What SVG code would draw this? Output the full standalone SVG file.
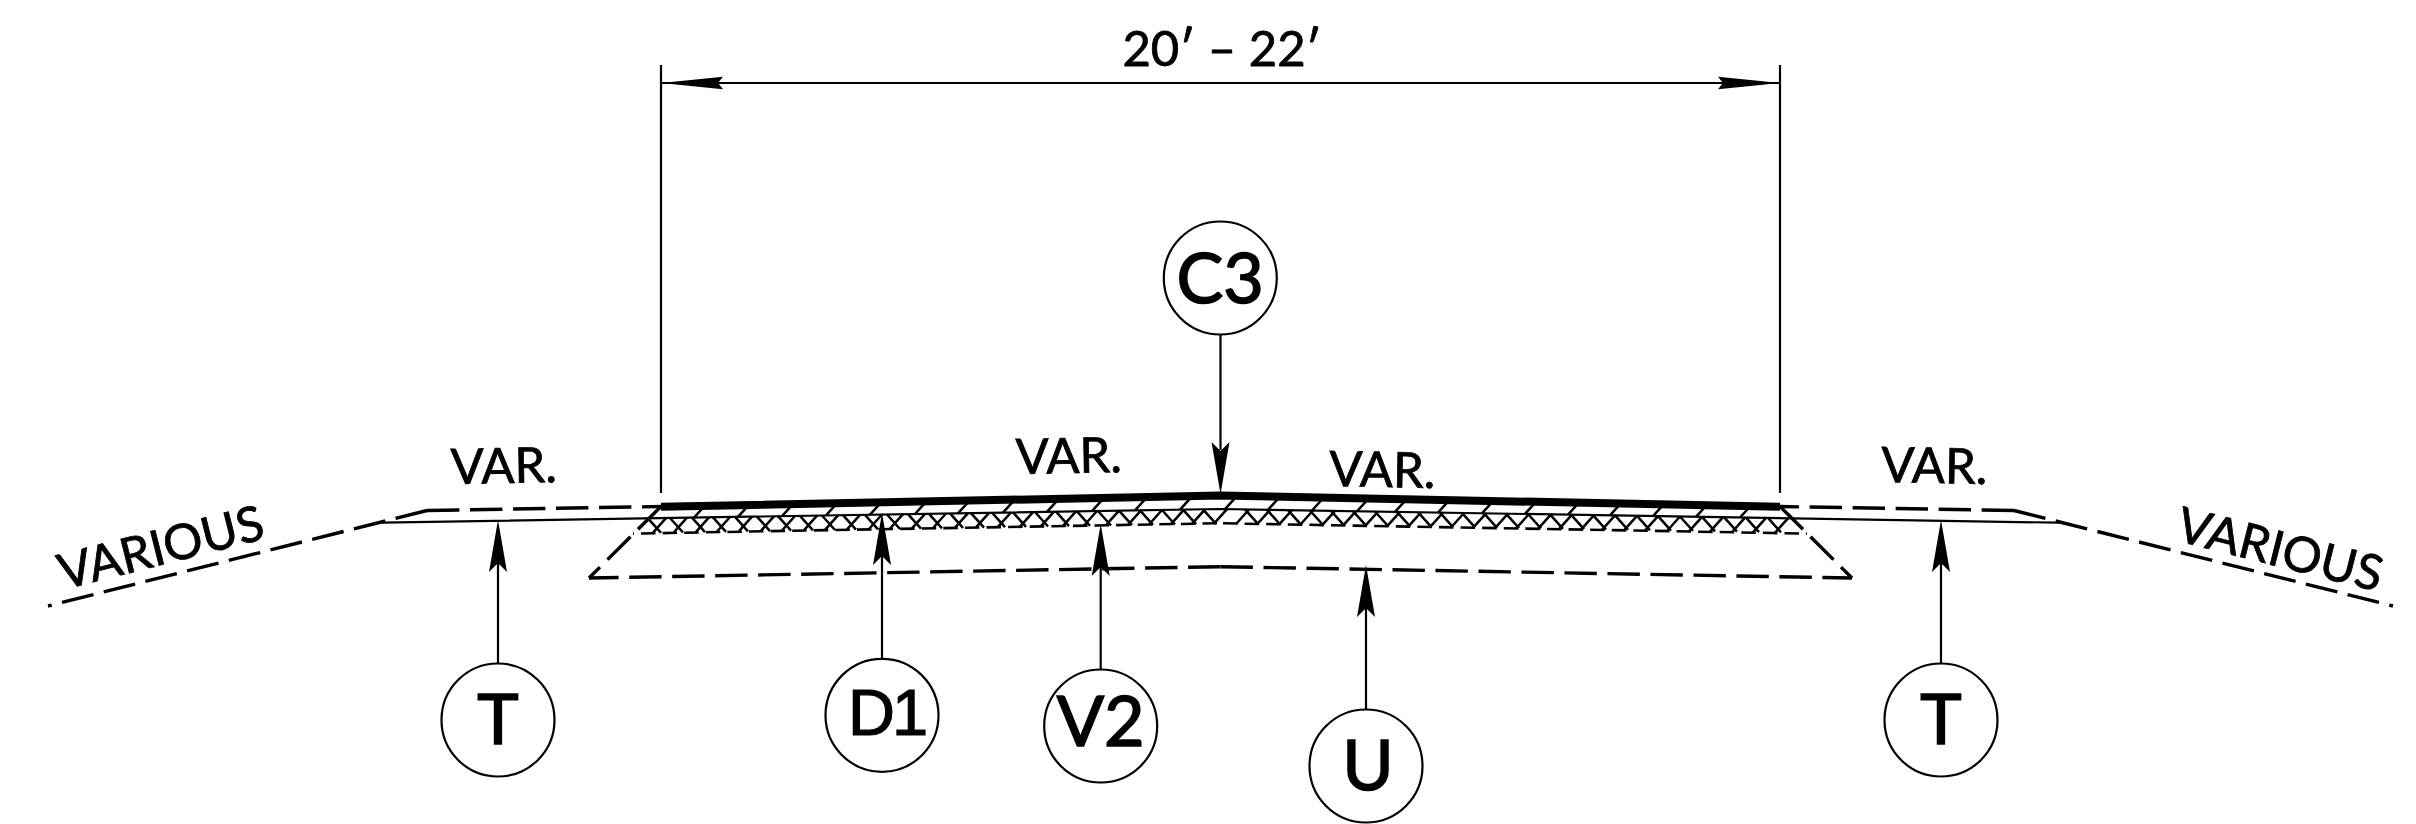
<svg xmlns="http://www.w3.org/2000/svg" xmlns:xlink="http://www.w3.org/1999/xlink" width="2416" height="824" viewBox="0 0 2416 824">
<style>
text{font-family:"Lato","Liberation Sans",sans-serif;fill:#000;stroke:#000;text-anchor:middle}
.lbl{font-size:49px;stroke-width:.8}
.big{font-size:70px;stroke-width:1.6}
.d1{font-family:"Liberation Sans",sans-serif;font-size:65px;stroke-width:1.2;letter-spacing:-3px;text-anchor:start}
.ln{fill:none;stroke:#000;stroke-width:2.2}
.dash{fill:none;stroke:#000;stroke-width:3.4;stroke-dasharray:32.4 10.6}
.short{fill:none;stroke:#000;stroke-width:2.6;stroke-dasharray:14.5 7.1}
.hat{fill:none;stroke:#000;stroke-width:2.5}
.bub{fill:#fff;stroke:#000;stroke-width:2.2}
</style>
<defs>
<path id="ah" d="M0 0L9 52L0 43L-9 52Z" fill="#000"/>
</defs>
<rect width="2416" height="824" fill="#fff"/>
<g id="ground">
<path class="dash" d="M427 510.5L48 606"/>
<path class="dash" d="M427 510.5L661 506.5"/>
<path class="dash" d="M2014 510.5L2393 606"/>
<path class="dash" d="M2014 510.5L1780 506.5"/>
<path class="ln" d="M382 522.7L1220.5 509L2059 522.7"/>
<path class="dash" d="M661 506.5L589 578"/>
<path class="dash" d="M1780 506.5L1852 578"/>
<path class="dash" d="M1220.5 566.7L589 578"/>
<path class="dash" d="M1220.5 566.7L1852 578"/>
<path class="short" d="M1217 523.3L633 533.6"/>
<path class="short" d="M1223 523.3L1807 533.6"/>
</g>
<g id="hatch" class="hat">
<path d="M666 518.1l-13 14.5M687 517.7l-13 14.5M709 517.4l-13 14.5M730 517l-13 14.5M752 516.7l-13 14.5M774 516.3l-13 14.5M795 516l-13 14.5M817 515.6l-13 14.5M838 515.3l-13 14.5M860 514.9l-13 14.5M882 514.5l-13 14.5M903 514.2l-13 14.5M925 513.8l-13 14.5M946 513.5l-13 14.5M968 513.1l-13 14.5M989 512.8l-13 14.5M1011 512.4l-13 14.5M1033 512.1l-13 14.5M1054 511.7l-13 14.5M1076 511.4l-13 14.5M1097 511l-13 14.5M1119 510.7l-13 14.5M1141 510.3l-13 14.5M1162 510l-13 14.5M1184 509.6l-13 14.5M1205 509.3l-13 14.5M1227 509.1l-13 14.5M1249 509.5l-13 14.5M1270 509.8l-13 14.5M1292 510.2l-13 14.5M1313 510.5l-13 14.5M1335 510.9l-13 14.5M1356 511.2l-13 14.5M1378 511.6l-13 14.5M1400 511.9l-13 14.5M1421 512.3l-13 14.5M1443 512.6l-13 14.5M1464 513l-13 14.5M1486 513.3l-13 14.5M1508 513.7l-13 14.5M1529 514l-13 14.5M1551 514.4l-13 14.5M1572 514.7l-13 14.5M1594 515.1l-13 14.5M1615 515.4l-13 14.5M1637 515.8l-13 14.5M1658 516.1l-13 14.5M1680 516.5l-13 14.5M1702 516.9l-13 14.5M1723 517.2l-13 14.5M1745 517.6l-13 14.5M1766 517.9l-13 14.5M1788 518.3l-13 14.5"/>
<path d="M648 518.4l13 14.5M670 518l13 14.5M692 517.6l13 14.5M713 517.3l13 14.5M735 516.9l13 14.5M757 516.6l13 14.5M778 516.2l13 14.5M800 515.9l13 14.5M822 515.5l13 14.5M843 515.2l13 14.5M865 514.8l13 14.5M887 514.5l13 14.5M908 514.1l13 14.5M929 513.8l13 14.5M950 513.4l13 14.5M971 513.1l13 14.5M992 512.7l13 14.5M1013 512.4l13 14.5M1035 512l13 14.5M1056 511.7l13 14.5M1077 511.3l13 14.5M1098 511l13 14.5M1119 510.7l13 14.5M1140 510.3l13 14.5M1162 510l13 14.5M1183 509.6l13 14.5M1203 509.3l13 14.5M1245 509.4l13 14.5M1267 509.8l13 14.5M1288 510.1l13 14.5M1310 510.5l13 14.5M1331 510.8l13 14.5M1353 511.2l13 14.5M1375 511.5l13 14.5M1397 511.9l13 14.5M1418 512.2l13 14.5M1440 512.6l13 14.5M1462 512.9l13 14.5M1484 513.3l13 14.5M1506 513.7l13 14.5M1528 514l13 14.5M1550 514.4l13 14.5M1571 514.7l13 14.5M1593 515.1l13 14.5M1615 515.4l13 14.5M1637 515.8l13 14.5M1658 516.1l13 14.5M1680 516.5l13 14.5M1702 516.9l13 14.5M1724 517.2l13 14.5M1746 517.6l13 14.5M1768 517.9l13 14.5"/>
<path d="M694 517.6l10-11M738 516.9l10-11M782 516.2l10-11M826 515.4l10-11M870 514.7l10-11M915 514l10-11M958 513.3l10-11M1003 512.6l10-11M1047 511.8l10-11M1092 511.1l10-11M1135 510.4l10-11M1180 509.7l10-11M1225 509.1l10-11M1268 509.8l10-11M1312 510.5l10-11M1357 511.3l10-11M1395 511.9l10-11M1438 512.6l10-11M1482 513.3l10-11M1525 513.9l10-11M1568 514.7l10-11M1610 515.3l10-11M1653 516.1l10-11M1696 516.8l10-11M1740 517.5l10-11"/>
</g>
<path id="pavement" d="M661 506.7L1220.5 495.6L1780 506.7" fill="none" stroke="#000" stroke-width="8"/>
<g id="connectors">
<path class="ln" d="M661 65V493M1780 65V493M661 83H1780"/>
<path d="M661 83L723 76.7L718 83L723 89.3Z" fill="#000"/>
<path d="M1780 83L1718 76.7L1723 83L1718 89.3Z" fill="#000"/>
<path class="ln" d="M1220.5 335V450M498 530V663M882 523V659M1100.7 534V669M1366 575V709M1941 530V663"/>
<use xlink:href="#ah" href="#ah" transform="translate(1220.5 494) rotate(180)"/>
<use xlink:href="#ah" href="#ah" transform="translate(498 520)"/>
<use xlink:href="#ah" href="#ah" transform="translate(882 513)"/>
<use xlink:href="#ah" href="#ah" transform="translate(1100.7 524)"/>
<use xlink:href="#ah" href="#ah" transform="translate(1366 565)"/>
<use xlink:href="#ah" href="#ah" transform="translate(1941 520)"/>
</g>
<g id="node-c3"><circle class="bub" cx="1220.3" cy="278" r="56.5"/><text class="big" x="1220.3" y="303">C3</text></g>
<g id="node-t-left"><circle class="bub" cx="498" cy="720" r="56.5"/><text class="big" x="498" y="744">T</text></g>
<g id="node-d1"><circle class="bub" cx="882" cy="715.3" r="56.5"/><text class="d1" x="848" y="735">D1</text></g>
<g id="node-v2"><circle class="bub" cx="1100.7" cy="726" r="56.5"/><text class="big" x="1100.7" y="746">V2</text></g>
<g id="node-u"><circle class="bub" cx="1366" cy="766" r="56.5"/><text class="big" x="1368" y="790">U</text></g>
<g id="node-t-right"><circle class="bub" cx="1941" cy="720" r="56.5"/><text class="big" x="1941" y="744">T</text></g>
<g id="labels">
<text class="lbl" x="1222" y="66">20′ – 22′</text>
<text class="lbl" transform="translate(504 483) rotate(-1)">VAR.</text>
<text class="lbl" transform="translate(1069 473) rotate(-1)">VAR.</text>
<text class="lbl" transform="translate(1382 487) rotate(1)">VAR.</text>
<text class="lbl" transform="translate(1934 483) rotate(1)">VAR.</text>
<text class="lbl" transform="translate(165 564) rotate(-14.2)">VARIOUS</text>
<text class="lbl" transform="translate(2276 566) rotate(14.2)">VARIOUS</text>
</g>
</svg>
